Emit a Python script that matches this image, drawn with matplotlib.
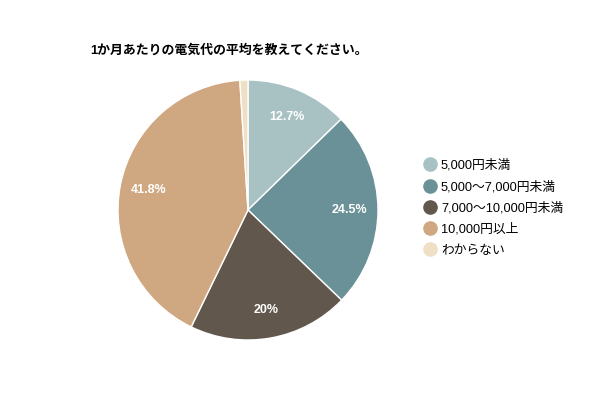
import matplotlib
matplotlib.use("Agg")
import matplotlib.pyplot as plt
from matplotlib.lines import Line2D
import numpy as np

plt.rcParams['font.family'] = ['Liberation Sans', 'Noto Sans CJK JP', 'DejaVu Sans']

categories = ["5,000円未満", "5,000〜7,000円未満", "7,000〜10,000円未満", "10,000円以上", "わからない"]
values = [12.7, 24.5, 20.0, 41.8, 1.0]
labels_text = ["12.7%", "24.5%", "20%", "41.8%", ""]
colors = ["#a8c2c4", "#6b9198", "#62574d", "#cfa882", "#eedfc5"]
title = "1か月あたりの電気代の平均を教えてください。"

fig = plt.figure(figsize=(6, 4), dpi=100)
ax = fig.add_axes([118/600, 60/400, 260/600, 260/400])
wedges, _ = ax.pie(values, colors=colors, startangle=90, counterclock=False,
                   wedgeprops=dict(edgecolor="white", linewidth=1))
total = sum(values)
cum = 0
for v, t in zip(values, labels_text):
    mid = 90 - (cum + v / 2) / total * 360
    cum += v
    if t:
        r = 0.78
        ax.text(r * np.cos(np.radians(mid)), r * np.sin(np.radians(mid)), t,
                ha="center", va="center", color="white", fontsize=9, fontweight="bold")
ax.set_aspect("equal")
ax.set_xlim(-1, 1)
ax.set_ylim(-1, 1)

fig.text(90/600, 1 - 50/400, title, ha="left", va="center", fontsize=9.3, fontweight="bold")

handles = [Line2D([0], [0], marker="o", linestyle="none", markersize=9.5,
                  markerfacecolor=c, markeredgecolor=c) for c in colors]
fig.legend(handles, categories, loc="center left", bbox_to_anchor=(416/600, 1 - 208/400),
           frameon=False, fontsize=9.2, handletextpad=0.25, labelspacing=0.7,
           handlelength=1.2, borderpad=0)

fig.savefig("out.png", dpi=100)
